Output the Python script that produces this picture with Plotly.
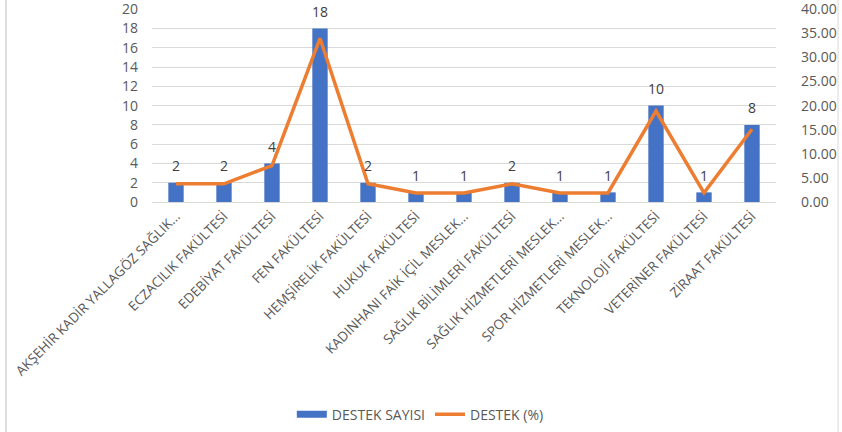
import plotly.graph_objects as go

categories = [
    "AKŞEHİR KADİR YALLAGÖZ SAĞLIK...",
    "ECZACILIK FAKÜLTESİ",
    "EDEBİYAT FAKÜLTESİ",
    "FEN FAKÜLTESİ",
    "HEMŞİRELİK FAKÜLTESİ",
    "HUKUK FAKÜLTESİ",
    "KADINHANI FAİK İÇİL MESLEK...",
    "SAĞLIK BİLİMLERİ FAKÜLTESİ",
    "SAĞLIK HİZMETLERİ MESLEK...",
    "SPOR HİZMETLERİ MESLEK...",
    "TEKNOLOJİ FAKÜLTESİ",
    "VETERİNER FAKÜLTESİ",
    "ZİRAAT FAKÜLTESİ",
]
destek_sayisi = [2, 2, 4, 18, 2, 1, 1, 2, 1, 1, 10, 1, 8]
destek_yuzde = [3.77, 3.77, 7.55, 33.96, 3.77, 1.89, 1.89, 3.77, 1.89, 1.89, 18.87, 1.89, 15.09]
left_ticks = [0, 2, 4, 6, 8, 10, 12, 14, 16, 18, 20]
right_ticks = [0, 5, 10, 15, 20, 25, 30, 35, 40]

FONT = "Open Sans"
GRAY = "#595959"
BLUE = "#4472C4"
ORANGE = "#ED7D31"

fig = go.Figure()
fig.add_trace(go.Bar(
    x=categories, y=destek_sayisi, name="DESTEK SAYISI",
    marker=dict(color=BLUE, line=dict(width=0)),
    cliponaxis=False, yaxis="y", showlegend=False,
))
# legend-only entry drawn as a wide block, like the reference's legend key
fig.add_trace(go.Scatter(
    x=[None], y=[None], name="DESTEK SAYISI", mode="lines",
    line=dict(color=BLUE, width=7), yaxis="y",
))
fig.add_trace(go.Scatter(
    x=categories, y=destek_yuzde, name="DESTEK (%)", mode="lines",
    line=dict(color=ORANGE, width=3.5), yaxis="y2",
))

# data labels above the bars
for cat, val in zip(categories, destek_sayisi):
    fig.add_annotation(x=cat, y=val, xref="x", yref="y", text=str(val),
                       showarrow=False, yanchor="middle", yshift=17,
                       font=dict(family=FONT, size=14, color="#404040"))

fig.update_layout(
    width=842, height=432,
    margin=dict(l=152, r=66, t=9, b=230, autoexpand=False),
    paper_bgcolor="white", plot_bgcolor="white",
    font=dict(family=FONT, color=GRAY, size=12),
    bargap=0.68,
    showlegend=True,
    legend=dict(orientation="h", x=0.43, xanchor="center",
                yref="container", y=0.04, yanchor="middle",
                font=dict(family=FONT, size=14, color=GRAY), itemwidth=30,
                traceorder="normal"),
    xaxis=dict(tickangle=-45, tickfont=dict(family=FONT, size=13.5, color=GRAY),
               showgrid=False, showline=True, linecolor="#D9D9D9", linewidth=1,
               ticks="", automargin=False),
    yaxis=dict(range=[0, 20.02], tickvals=left_ticks, showgrid=True, gridcolor="#D9D9D9",
               gridwidth=1, zeroline=False, showline=False,
               tickfont=dict(family=FONT, size=14, color=GRAY), ticklabelstandoff=13,
               ticklabeloverflow="allow", automargin=False),
    yaxis2=dict(range=[0, 40.04], tickvals=right_ticks, tickformat=".2f", overlaying="y",
                side="right", showgrid=False, zeroline=False, showline=False,
                tickfont=dict(family=FONT, size=14, color=GRAY), ticklabelstandoff=24,
                ticklabeloverflow="allow", automargin=False),
    shapes=[
        dict(type="line", xref="paper", yref="paper", x0=(6-152)/624, x1=(6-152)/624, y0=-2, y1=2,
             line=dict(color="#BFBFBF", width=1), layer="below"),
        dict(type="line", xref="paper", yref="paper", x0=(838-152)/624, x1=(838-152)/624, y0=-2, y1=2,
             line=dict(color="#D9D9D9", width=1), layer="below"),
    ],
)

fig.write_html("out.html")
